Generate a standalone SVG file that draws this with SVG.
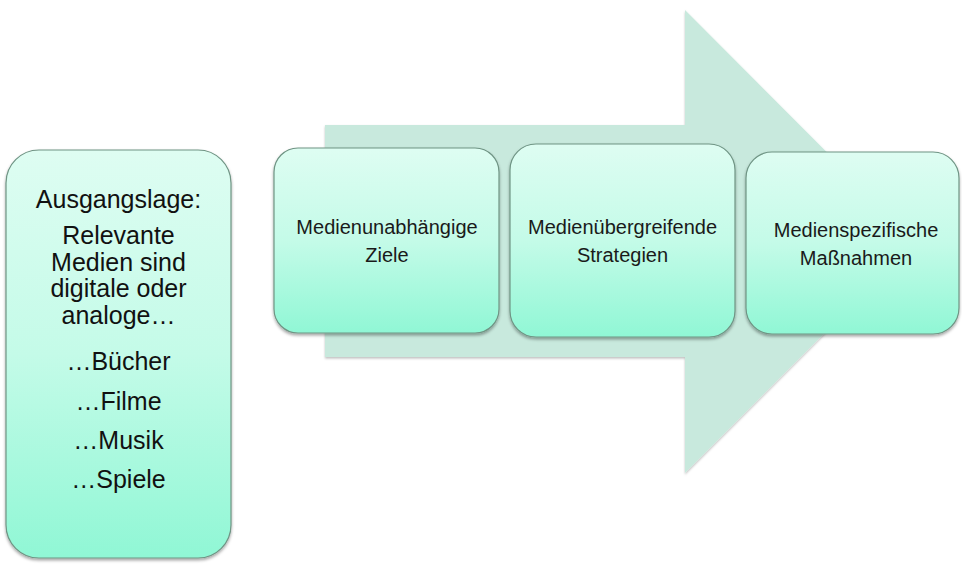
<svg xmlns="http://www.w3.org/2000/svg" width="962" height="565" viewBox="0 0 962 565">
  <defs>
    <linearGradient id="boxGrad" x1="0" y1="0" x2="0" y2="1">
      <stop offset="0" stop-color="#defdf2"/>
      <stop offset="0.5" stop-color="#c4fbe8"/>
      <stop offset="1" stop-color="#90f7d5"/>
    </linearGradient>
    <filter id="shadow" x="-10%" y="-10%" width="120%" height="125%">
      <feDropShadow dx="0" dy="2" stdDeviation="1.6" flood-color="#000" flood-opacity="0.35"/>
    </filter>
    <filter id="arrowShadow" x="-10%" y="-10%" width="120%" height="125%">
      <feDropShadow dx="0" dy="1.5" stdDeviation="1.2" flood-color="#000" flood-opacity="0.25"/>
    </filter>
  </defs>
  <style>
    .box { fill: url(#boxGrad); stroke: #6f9484; stroke-width: 1.2; filter: url(#shadow); }
    .lbl { font-family: "Liberation Sans", Arial, sans-serif; font-size: 20px; fill: #1a1a1a; text-anchor: middle; }
    .big { font-family: "Liberation Sans", Arial, sans-serif; font-size: 25px; fill: #111; text-anchor: middle; }
    .arrow { fill: #c8e9dd; filter: url(#arrowShadow); }
  </style>
  <rect width="962" height="565" fill="#ffffff"/>

  <g id="connectors">
    <polygon class="arrow" points="325,125 685,125 685,10 916,241.5 685,473 685,357 325,357"/>
  </g>

  <g id="node-ausgangslage">
    <rect class="box" x="6" y="150" width="225" height="408" rx="33" ry="33"/>
    <text class="big" x="118.5" y="208">Ausgangslage:</text>
    <text class="big" x="118.5" y="244">Relevante</text>
    <text class="big" x="118.5" y="270.5">Medien sind</text>
    <text class="big" x="118.5" y="297">digitale oder</text>
    <text class="big" x="118.5" y="323.5">analoge…</text>
    <text class="big" x="118.5" y="370">…Bücher</text>
    <text class="big" x="118.5" y="410">…Filme</text>
    <text class="big" x="118.5" y="449">…Musik</text>
    <text class="big" x="118.5" y="488">…Spiele</text>
  </g>

  <g id="node-ziele">
    <rect class="box" x="274" y="148" width="225" height="185" rx="24" ry="24"/>
    <text class="lbl" x="387" y="234">Medienunabhängige</text>
    <text class="lbl" x="387" y="262">Ziele</text>
  </g>

  <g id="node-strategien">
    <rect class="box" x="510" y="144" width="225" height="193" rx="26" ry="26"/>
    <text class="lbl" x="622.5" y="234">Medienübergreifende</text>
    <text class="lbl" x="622.5" y="262">Strategien</text>
  </g>

  <g id="node-massnahmen">
    <rect class="box" x="746" y="152" width="213" height="182" rx="26" ry="26"/>
    <text class="lbl" x="856" y="237">Medienspezifische</text>
    <text class="lbl" x="856" y="265">Maßnahmen</text>
  </g>
</svg>
